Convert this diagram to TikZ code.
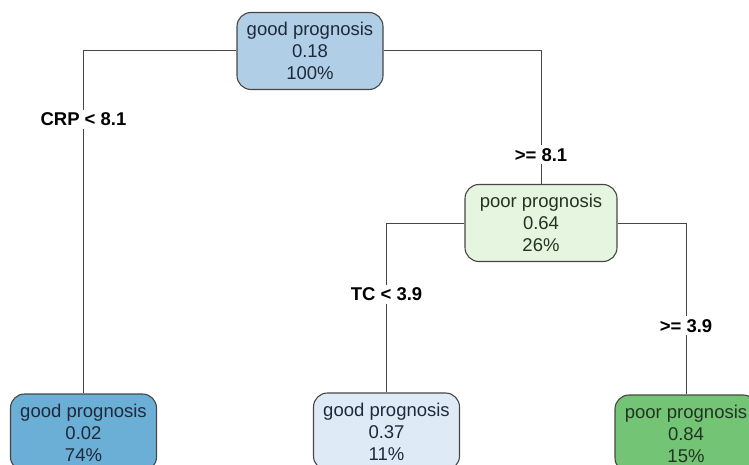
\documentclass[tikz,border=0pt]{standalone}
\usepackage{fontspec}
\setmainfont{Liberation Sans}
\usepackage{tikz}

\definecolor{rootblue}{RGB}{176,206,230}
\definecolor{deepblue}{RGB}{107,174,214}
\definecolor{paleblue}{RGB}{222,235,247}
\definecolor{palegreen}{RGB}{229,245,224}
\definecolor{midgreen}{RGB}{116,196,118}
\definecolor{goodtext}{RGB}{30,42,58}
\definecolor{poortext}{RGB}{34,52,34}
\definecolor{edgegray}{RGB}{70,70,70}

\begin{document}
\begin{tikzpicture}[x=1pt, y=-1pt,
    leaf/.style={draw=edgegray, line width=1.1pt, rounded corners=14pt,
        minimum width=146pt, minimum height=77pt, align=center,
        font=\fontsize{18.5}{22}\selectfont},
    good/.style={leaf, text=goodtext},
    poor/.style={leaf, text=poortext},
    split/.style={fill=white, text=black, inner sep=3pt,
        font=\fontsize{18.5}{21.5}\selectfont\bfseries},
    branch/.style={draw=edgegray, line width=1pt}]

    % Frame of the picture, leaves run off the edges
    \useasboundingbox (0,0) rectangle (749,465);
    \clip (0,0) rectangle (749,465);

    % Root node
    \node[good, fill=rootblue] (root) at (310,51)
        {good prognosis\\0.18\\100\%};

    % Inner node on the right
    \node[poor, fill=palegreen, minimum width=152pt] (inner) at (541,223)
        {poor prognosis\\0.64\\26\%};

    % Leaves along the bottom
    \node[good, fill=deepblue] (leafa) at (83.5,432.5)
        {good prognosis\\0.02\\74\%};
    \node[good, fill=paleblue] (leafb) at (386.5,431.5)
        {good prognosis\\0.37\\11\%};
    \node[poor, fill=midgreen, minimum width=142pt] (leafc) at (686,433.5)
        {poor prognosis\\0.84\\15\%};

    % Splits on CRP
    \draw[branch] (root.west) -| (leafa.north)
        node[split, pos=0.60] {CRP < 8.1};
    \draw[branch] (root.east) -| (inner.north)
        node[split, pos=0.89] {>= 8.1};

    % Splits on TC
    \draw[branch] (inner.west) -| (leafb.north)
        node[split, pos=0.71] {TC < 3.9};
    \draw[branch] (inner.east) -| (leafc.north)
        node[split, pos=0.80] {>= 3.9};
\end{tikzpicture}
\end{document}
